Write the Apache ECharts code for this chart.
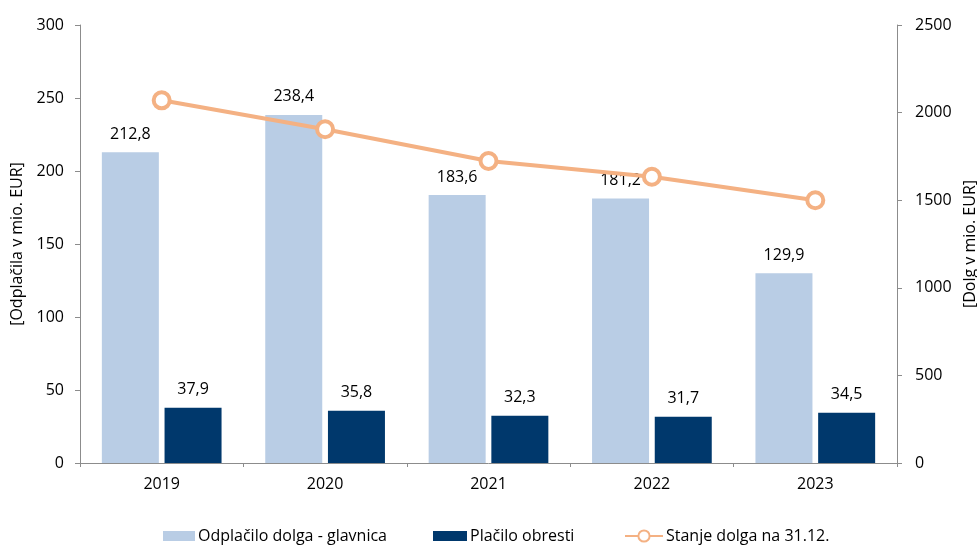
<!DOCTYPE html>
<html><head><meta charset="utf-8">
<script src="https://cdn.jsdelivr.net/npm/echarts@6/dist/echarts.min.js"></script>
<style>html,body{margin:0;padding:0;background:#fff}#c{width:977px;height:547px}</style>
</head><body><div id="c"></div>
<script>
const categories = ['2019','2020','2021','2022','2023'];
const principal = [212.8, 238.4, 183.6, 181.2, 129.9];
const interest = [37.9, 35.8, 32.3, 31.7, 34.5];
const debt = [2070, 1905, 1724, 1634, 1500];
const seriesNames = ['Odplačilo dolga - glavnica', 'Plačilo obresti', 'Stanje dolga na 31.12.'];

const FONT = 'Open Sans';
const FS = 16;
const fmt = p => p.value.toFixed(1).replace('.', ',');
const chart = echarts.init(document.getElementById('c'), null, {renderer: 'canvas'});
const axisLine = {show: true, lineStyle: {color: '#8c8c8c', width: 1}};
const legendBase = {top: 528, itemHeight: 10, itemWidth: 32, itemGap: 0, padding: 0,
  textStyle: {fontFamily: FONT, fontSize: FS, color: '#000', padding: [0,0,0,-2]}};
chart.setOption({
  animation: false,
  textStyle: {fontFamily: FONT},
  grid: {left: 80, right: 80, top: 25, bottom: 84, outerBoundsMode: 'none', containLabel: false},
  legend: [
    Object.assign({}, legendBase, {left: 163, data: [{name: seriesNames[0], icon: 'rect'}]}),
    Object.assign({}, legendBase, {left: 433, itemWidth: 34, data: [{name: seriesNames[1], icon: 'rect'}]}),
    Object.assign({}, legendBase, {left: 624, itemWidth: 38, itemHeight: 14, data: [{name: seriesNames[2]}]})
  ],
  xAxis: {
    type: 'category', data: categories,
    axisLine: axisLine,
    axisTick: {show: true, length: 4, lineStyle: {color: '#8c8c8c'}},
    axisLabel: {color: '#000', fontSize: FS, fontFamily: FONT, margin: 13}
  },
  yAxis: [
    {type: 'value', min: 0, max: 300, interval: 50, position: 'left',
     name: '[Odplačila v mio. EUR]', nameLocation: 'middle', nameGap: 55, nameRotate: 90,
     nameTextStyle: {color: '#000', fontSize: FS, fontFamily: FONT},
     axisLine: axisLine, axisTick: {show: true, length: 5, lineStyle: {color: '#8c8c8c'}},
     splitLine: {show: false},
     axisLabel: {color: '#000', fontSize: FS, fontFamily: FONT, margin: 16}},
    {type: 'value', min: 0, max: 2500, interval: 500, position: 'right',
     name: '[Dolg v mio. EUR]', nameLocation: 'middle', nameGap: 57, nameRotate: 90,
     nameTextStyle: {color: '#000', fontSize: FS, fontFamily: FONT},
     axisLine: axisLine, axisTick: {show: true, length: 5, lineStyle: {color: '#8c8c8c'}},
     splitLine: {show: false},
     axisLabel: {color: '#000', fontSize: FS, fontFamily: FONT, margin: 18, formatter: v => String(v)}}
  ],
  series: [
    {name: seriesNames[0], type: 'bar', data: principal, barWidth: 57, barGap: '10%',
     itemStyle: {color: '#B9CDE5'},
     label: {show: true, position: 'top', distance: 10, color: '#000', fontSize: FS, fontFamily: FONT, formatter: fmt}},
    {name: seriesNames[1], type: 'bar', data: interest, barWidth: 57, barGap: '10%',
     itemStyle: {color: '#00386C'},
     label: {show: true, position: 'top', distance: 10, color: '#000', fontSize: FS, fontFamily: FONT, formatter: fmt}},
    {name: seriesNames[2], type: 'line', yAxisIndex: 1, data: debt,
     symbol: 'circle', symbolSize: 16,
     lineStyle: {color: '#F4B183', width: 4},
     itemStyle: {color: '#fff', borderColor: '#F4B183', borderWidth: 4},
     z: 5}
  ]
});
</script></body></html>
